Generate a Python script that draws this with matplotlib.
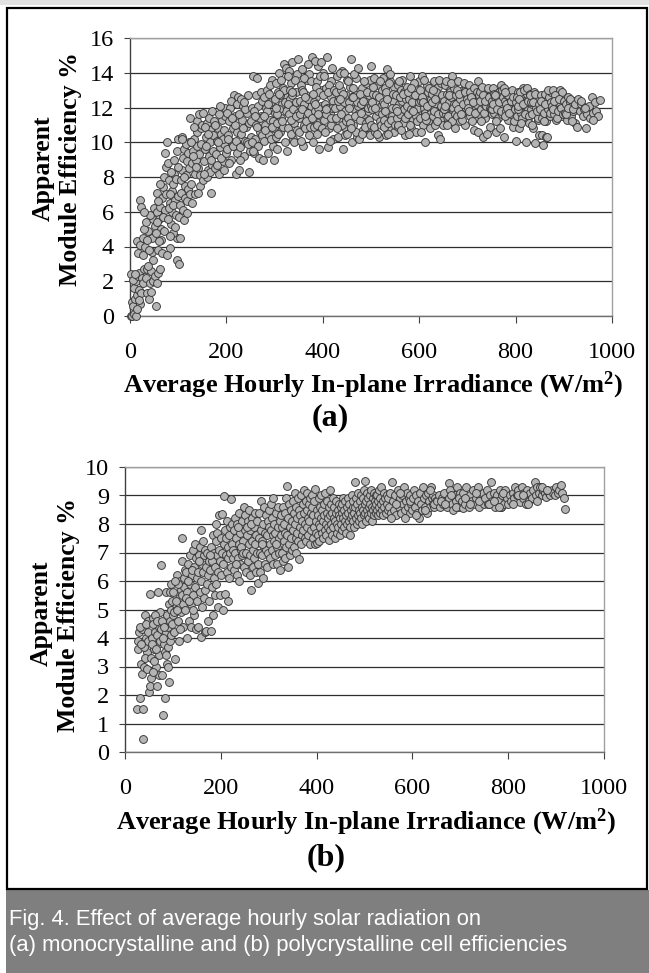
import matplotlib
matplotlib.use("Agg")
import matplotlib.pyplot as plt
import numpy as np

# ---- panel (a): monocrystalline (irradiance W/m2, efficiency %)
mono_low = [
    (2,0.0),(5,0.0),(8,0.1),(12,0.0),(4,0.8),(7,0.6),(10,1.0),(14,1.2),(9,1.6),(12,2.0),(3,2.4),(6,2.1),
    (16,2.3),(18,1.5),(20,0.7),(22,1.3),(15,0.4),(19,2.5),(17,3.6),(15,4.3),(20,4.1),(20,6.7),(22,6.3),
    (24,2.2),(11,2.4),(18,0.9),
    (27,1.9),(30,2.7),(28,3.5),(33,2.2),(35,1.3),(36,2.7),(38,4.9),(40,1.0),(42,1.9),(30,5.0),(34,5.4),
    (44,2.6),(46,3.7),(48,3.2),(45,4.5),(47,5.6),(32,4.0),(40,3.8),(42,5.8),(49,6.2),(26,4.5),(38,2.9),
    (43,1.4),(48,2.0),(36,4.4),(29,6.0),
    (54,0.6),(52,2.3),(56,1.9),(59,2.5),(62,2.7),(58,3.8),(52,5.2),(55,6.0),(57,7.1),(60,5.6),(62,6.3),
    (64,5.0),(66,6.8),(68,7.4),(70,8.0),(65,4.4),(72,6.1),(73,9.4),(74,8.6),(60,4.3),(68,5.7),(71,4.9),
    (53,4.8),(63,7.6),(58,6.6),(74,7.0),(67,3.6),(56,5.4),
    (76,10.0),(78,8.8),(80,7.8),(82,6.5),(84,3.9),(77,3.5),(85,5.3),(87,6.0),(88,7.2),(90,7.6),(92,8.2),
    (94,6.7),(96,5.8),(97,4.5),(98,9.5),(99,10.2),(90,4.8),(86,8.3),(83,7.0),(93,5.1),(80,6.2),(95,7.9),
    (89,6.4),(79,5.6),(91,9.0),(97,3.2),(99,6.9),(84,4.6),
]
mono_rise = [
    (102,3.0),(104,4.5),(101,5.7),(103,6.4),(105,7.1),(106,7.8),(108,8.4),(110,9.1),(112,9.6),(108,10.3),
    (114,6.8),(115,7.5),(116,8.1),(118,8.9),(120,9.4),(122,10.0),(124,11.4),(113,5.5),(119,6.6),(121,7.3),
    (123,8.5),(117,9.9),(109,6.1),(111,8.0),(107,10.2),(125,7.0),(118,5.9),(100,8.6),
    (127,7.6),(128,8.8),(130,9.5),(132,10.2),(134,8.2),(136,9.0),(138,9.8),(140,10.6),(142,8.5),(144,9.3),
    (146,7.5),(148,10.8),(135,7.0),(139,11.2),(143,11.6),(129,6.5),(131,9.2),(145,8.1),(147,9.9),(133,10.9),
    (137,8.6),(141,7.1),(149,11.0),(126,10.0),
    (151,7.8),(153,8.9),(155,9.6),(157,10.3),(159,11.1),(161,8.4),(163,9.2),(165,10.0),(167,10.7),(169,7.1),
    (171,8.7),(173,9.5),(152,11.7),(156,10.9),(160,8.0),(164,11.4),(168,9.0),(172,10.4),(174,11.2),(158,9.8),
    (166,8.3),(170,11.8),(154,8.2),(162,10.5),
    (176,8.5),(178,9.3),(180,10.1),(182,10.8),(184,8.2),(186,9.7),(188,10.5),(190,11.3),(192,8.9),(194,9.9),
    (196,10.7),(198,11.5),(177,11.0),(181,8.7),(185,11.6),(189,9.1),(193,10.2),(197,12.0),(199,9.4),(183,10.0),
    (195,8.4),(187,12.1),
    (201,9.6),(203,10.4),(205,11.2),(207,12.0),(209,9.0),(211,10.0),(213,10.8),(215,12.7),(217,11.5),(219,8.2),
    (221,9.4),(223,10.6),(224,12.6),(202,11.7),(206,8.8),(210,12.4),(214,9.8),(218,11.0),(222,12.2),(204,10.2),
    (212,11.4),(220,10.1),
    (226,8.4),(228,9.7),(230,10.5),(232,11.3),(234,12.1),(236,9.2),(238,10.1),(240,10.9),(242,11.7),(244,12.7),
    (246,8.3),(248,9.5),(250,10.3),(227,11.6),(231,12.5),(235,10.8),(239,11.9),(243,10.0),(247,11.1),(229,9.0),
    (237,12.3),(245,9.9),
    (252,11.2),(254,12.0),(256,13.8),(258,9.4),(260,10.2),(262,11.0),(264,13.7),(266,12.1),(268,9.1),(270,10.6),
    (272,11.5),(274,12.4),(253,10.0),(257,11.8),(261,12.7),(265,9.8),(269,11.4),(273,10.4),(255,9.5),(263,10.9),
    (271,12.9),(259,11.5),
    (276,9.0),(278,10.1),(280,11.0),(282,12.0),(284,13.0),(286,9.4),(288,10.4),(290,11.3),(292,12.3),(294,13.6),
    (296,9.8),(298,10.8),(300,11.7),(277,12.6),(281,10.7),(285,11.8),(289,12.8),(293,10.2),(297,11.2),(299,9.0),
    (279,11.5),(291,13.3),(287,12.2),(295,10.9),
]
mono_peak = [
    (301,12.5),(303,10.3),(305,11.1),(307,12.9),(309,14.0),(311,10.6),(313,11.4),(315,12.2),(317,13.1),(319,14.5),
    (321,10.0),(323,11.8),(325,12.6),(302,13.4),(306,9.6),(310,11.9),(314,13.6),(318,10.9),(322,12.3),(304,11.6),
    (308,10.5),(312,12.7),(316,11.2),(320,13.0),(324,14.3),(303,12.0),(309,12.8),
    (326,9.5),(328,10.8),(330,11.6),(332,12.5),(334,13.4),(336,14.6),(338,10.2),(340,11.1),(342,12.0),(344,12.9),
    (346,13.9),(348,14.8),(350,11.4),(327,12.2),(331,13.0),(335,10.5),(339,11.9),(343,13.6),(347,10.7),(329,14.1),
    (333,11.3),(337,12.7),(341,10.0),(345,12.3),(349,11.7),(327,13.8),(344,11.5),(336,12.9),
    (351,10.6),(353,12.4),(355,13.3),(357,14.2),(359,9.8),(361,11.0),(363,11.8),(365,12.7),(367,13.6),(369,14.5),
    (371,10.4),(373,11.3),(375,12.1),(352,11.6),(356,13.0),(360,12.2),(364,10.8),(368,11.5),(372,13.9),(354,10.1),
    (358,12.9),(362,13.7),(366,11.2),(370,12.5),(374,10.9),(357,11.9),(363,12.6),(369,11.7),
    (376,13.5),(378,14.9),(380,10.0),(382,10.9),(384,11.8),(386,12.6),(388,13.5),(390,14.4),(392,9.6),(394,11.2),
    (396,12.1),(398,13.0),(400,14.0),(377,11.4),(381,12.3),(385,13.2),(389,10.5),(393,12.9),(397,11.5),(379,12.8),
    (383,14.7),(387,11.0),(391,12.0),(395,13.8),(399,10.8),(384,12.2),(390,11.6),(396,14.6),
    (402,11.3),(404,12.2),(406,13.1),(408,14.9),(410,9.7),(412,10.8),(414,11.7),(416,12.6),(418,13.5),(420,14.3),
    (422,10.2),(424,11.1),(401,12.7),(405,10.6),(409,12.0),(413,13.3),(417,11.0),(421,12.4),(403,13.8),(407,11.6),
    (411,12.9),(415,10.1),(419,12.0),(423,13.0),(406,11.9),(418,11.4),
    (426,12.0),(428,12.9),(430,13.8),(432,10.3),(434,11.2),(436,12.1),(438,13.0),(440,14.1),(442,9.6),(444,10.9),
    (446,11.8),(448,12.7),(450,13.6),(427,11.4),(431,12.4),(435,14.0),(439,11.0),(443,12.3),(447,10.4),(429,10.8),
    (433,13.3),(437,11.6),(441,12.8),(445,14.0),(449,11.2),(436,12.5),
    (451,10.5),(453,11.4),(455,12.3),(457,13.2),(459,14.8),(461,10.0),(463,11.0),(465,11.9),(467,12.8),(469,13.7),
    (471,10.3),(473,11.6),(475,12.5),(452,13.5),(456,11.1),(460,12.6),(464,13.9),(468,10.6),(472,12.1),(454,12.0),
    (458,10.8),(462,13.1),(466,11.5),(470,12.3),(474,14.3),(463,12.6),
    (476,10.2),(478,11.3),(480,12.2),(482,13.1),(484,10.7),(486,11.6),(488,12.5),(490,13.4),(492,10.9),(494,11.8),
    (496,12.7),(498,13.6),(500,14.4),(477,12.8),(481,10.5),(485,13.5),(489,11.1),(493,12.0),(497,10.4),(479,11.7),
    (483,12.4),(487,10.9),(491,12.9),(495,11.3),(499,12.1),
    (501,11.0),(503,11.9),(505,12.8),(507,13.7),(509,10.6),(511,11.5),(513,12.4),(515,13.3),(517,10.3),(519,11.2),
    (521,12.1),(523,13.0),(525,13.7),(502,12.3),(506,10.9),(510,12.7),(514,11.8),(518,13.5),(522,11.6),(504,13.2),
    (508,12.0),(512,10.5),(516,12.6),(520,11.0),(524,12.3),
    (526,11.3),(528,12.2),(530,13.1),(532,10.4),(534,14.2),(536,11.7),(538,12.6),(540,13.5),(542,10.7),(544,11.5),
    (546,12.4),(548,13.2),(550,11.9),(527,10.9),(531,12.9),(535,11.1),(539,13.9),(543,12.0),(547,10.6),(529,11.8),
    (533,12.5),(537,13.4),(541,11.3),(545,12.8),(549,11.0),(536,10.5),
    (551,12.7),(553,11.4),(555,13.3),(557,10.9),(559,12.2),(561,11.6),(563,13.0),(565,12.4),(567,11.1),(569,12.9),
    (571,10.4),(573,11.8),(575,13.2),(552,12.0),(556,11.0),(560,12.6),(564,13.6),(568,11.9),(572,12.5),(554,11.8),
    (558,13.5),(562,10.7),(566,12.8),(570,11.4),(574,12.1),
    (576,11.6),(578,12.5),(580,13.8),(582,10.8),(584,11.9),(586,12.8),(588,11.3),(590,12.2),(592,13.1),(594,10.6),
    (596,11.7),(598,12.6),(600,13.5),(577,12.9),(581,11.0),(585,12.3),(589,13.4),(593,11.5),(597,12.0),(579,10.5),
    (583,13.1),(587,11.8),(591,12.7),(595,11.2),(599,12.3),
]
mono_high = [
    (601,11.4),(603,12.4),(605,13.8),(607,11.0),(609,12.0),(611,10.0),(613,11.7),(615,12.6),(617,13.3),(619,11.2),
    (621,12.2),(623,10.8),(625,11.9),(602,13.0),(606,12.6),(610,13.6),(614,11.3),(618,12.9),(622,11.6),(604,10.6),
    (608,12.3),(612,11.5),(616,12.1),(620,13.1),(624,12.5),
    (626,12.8),(628,11.5),(630,13.5),(632,11.0),(634,12.2),(636,11.8),(638,13.2),(640,10.4),(642,12.6),(644,11.3),
    (646,13.4),(648,12.0),(650,11.0),(627,12.3),(631,11.8),(635,12.9),(639,11.6),(643,10.2),(647,12.7),(629,13.0),
    (633,12.5),(637,11.2),(641,13.6),(645,12.1),(649,11.7),
    (651,12.4),(653,13.3),(655,11.6),(657,12.8),(659,11.1),(661,12.3),(663,13.0),(665,11.4),(667,12.6),(669,13.8),
    (671,11.8),(673,12.2),(675,10.8),(652,11.9),(656,13.5),(660,11.5),(664,12.9),(668,11.2),(672,13.1),(654,12.1),
    (658,11.0),(662,12.7),(666,13.4),(670,12.0),(674,11.6),
    (676,12.7),(678,11.5),(680,13.5),(682,12.1),(684,11.2),(686,12.9),(688,11.7),(690,13.0),(692,12.4),(694,11.0),
    (696,12.6),(698,13.2),(700,11.8),(677,12.2),(681,11.9),(685,12.5),(689,11.3),(693,13.4),(697,12.0),(679,13.0),
    (683,12.8),(687,11.6),(691,12.2),(695,12.9),(699,12.5),
    (701,12.3),(703,13.3),(705,11.5),(707,12.7),(709,11.9),(711,13.0),(713,10.7),(715,12.1),(717,12.8),(719,11.4),
    (721,13.5),(723,12.4),(725,11.6),(702,12.0),(706,12.9),(710,11.2),(714,13.1),(718,12.2),(722,10.6),(704,11.8),
    (708,12.6),(712,12.3),(716,11.7),(720,12.9),(724,12.7),
    (726,12.9),(728,11.9),(730,12.5),(732,10.3),(734,12.2),(736,11.4),(738,13.0),(740,12.6),(742,11.8),(744,12.3),
    (746,10.9),(748,12.8),(750,11.6),(727,12.4),(731,13.2),(735,11.7),(739,12.1),(743,13.1),(747,12.0),(729,11.2),
    (733,12.7),(737,12.4),(741,10.5),(745,12.6),(749,11.9),
    (751,12.4),(753,13.1),(755,11.7),(757,12.6),(759,10.6),(761,12.2),(763,11.4),(765,12.9),(767,12.0),(769,13.3),
    (771,11.6),(773,12.4),(775,10.3),(752,11.9),(756,12.8),(760,11.2),(764,12.5),(768,10.8),(772,13.0),(754,12.2),
    (758,12.7),(762,11.9),(766,12.3),(770,11.8),(774,12.6),
    (776,13.1),(778,12.4),(780,11.8),(782,12.7),(784,11.3),(786,12.2),(788,12.9),(790,11.6),(792,12.5),(794,10.9),
    (796,12.0),(798,12.8),(800,10.1),(777,11.5),(781,12.2),(785,12.7),(789,11.9),(793,13.0),(797,11.2),(779,12.9),
    (783,12.0),(787,11.7),(791,12.4),(795,12.6),(799,11.9),
    (801,12.3),(803,11.5),(805,12.9),(807,10.8),(809,12.1),(811,11.7),(813,12.6),(815,13.1),(817,11.3),(819,12.4),
    (821,10.0),(823,12.8),(825,11.9),(802,12.6),(806,11.9),(810,12.9),(814,11.4),(818,13.0),(822,12.3),(804,12.1),
    (808,12.5),(812,11.1),(816,12.2),(820,11.6),(824,13.1),
    (826,12.4),(828,11.5),(830,12.8),(832,11.9),(834,12.2),(836,10.8),(838,12.6),(840,9.95),(842,11.7),(844,12.5),
    (846,11.3),(848,10.4),(850,12.1),(827,11.1),(831,12.3),(835,11.6),(839,12.9),(843,12.0),(847,11.4),(829,12.7),
    (833,11.0),(837,12.3),(841,12.8),(845,11.8),(849,12.2),(856,9.85),(854,10.4),(864,10.3),(866,10.3),
    (851,11.9),(853,12.7),(855,11.4),(857,12.3),(859,11.7),(861,12.8),(863,11.2),(865,12.4),(867,11.9),(869,12.6),
    (871,11.5),(873,12.9),(875,12.0),(852,12.4),(858,11.2),(862,12.2),(868,13.0),(872,11.7),(874,12.3),
    (876,12.1),(878,13.0),(880,11.6),(882,12.5),(884,11.3),(886,12.2),(888,12.8),(890,11.8),(892,13.0),(894,12.4),
    (896,11.5),(898,12.7),(900,12.1),(877,11.9),(881,12.7),(885,11.4),(889,12.3),(893,11.9),(897,12.9),(879,12.4),
    (887,11.8),(891,12.5),(895,12.0),(899,11.6),
    (901,12.4),(903,11.7),(905,12.2),(907,11.3),(909,12.6),(911,11.9),(913,12.3),(915,11.5),(917,12.1),(919,11.8),
    (921,12.4),(923,11.1),(925,12.0),(904,11.6),(908,12.0),(912,12.5),(916,11.2),(920,11.9),(924,12.2),
    (927,10.9),(930,12.5),(933,11.8),(936,12.2),(939,11.5),(942,11.9),(946,10.8),(949,11.6),(952,12.1),(955,11.4),
    (958,12.6),(961,11.7),(964,12.3),(967,11.8),(970,11.5),(975,12.45),(935,12.4),(944,12.0),(960,11.3),
]

# ---- panel (b): polycrystalline
poly_low = [
    (26,1.5),(37,1.52),(31,1.9),(38,0.44),(28,3.6),(30,4.2),(33,3.1),(35,2.75),(27,3.9),(40,3.0),(42,4.8),
    (44,4.0),(46,3.5),(48,4.6),(36,4.3),(39,3.7),(45,2.9),(47,4.2),(32,4.4),(41,3.3),(49,3.9),(34,3.8),(43,4.5),
    (51,2.1),(52,2.3),(53,5.55),(55,2.6),(54,3.3),(56,4.0),(58,4.7),(60,3.6),(62,4.2),(64,3.0),(66,2.3),(68,3.8),
    (69,5.6),(70,4.4),(72,3.4),(74,4.9),(57,3.8),(59,4.5),(61,3.2),(63,4.8),(65,3.6),(67,4.1),(71,2.7),(73,3.9),
    (75,4.3),(58,2.8),(66,4.6),
    (76,6.55),(77,4.6),(78,2.7),(80,1.3),(81,3.8),(83,1.9),(84,3.5),(85,5.6),(86,4.2),(87,3.1),(88,4.8),(89,3.7),
    (90,4.4),(91,2.45),(92,5.2),(93,3.9),(94,4.6),(95,5.0),(96,4.1),(97,5.9),(98,4.5),(99,5.3),(79,4.0),(82,4.4),
    (86,3.4),(90,3.0),(94,5.6),(100,4.8),
    (101,5.6),(103,4.2),(105,3.25),(106,5.0),(108,6.2),(110,4.6),(112,5.4),(113,3.9),(114,6.0),(116,4.9),
    (117,5.7),(118,6.7),(120,7.5),(121,4.4),(122,5.2),(123,6.1),(124,5.8),(102,4.9),(107,5.3),(111,5.9),
    (115,4.3),(119,5.5),(104,6.0),(109,5.0),(125,6.4),
    (126,5.0),(128,6.3),(129,4.0),(130,5.6),(132,6.6),(133,4.6),(135,5.9),(136,6.9),(137,5.2),(138,4.4),
    (140,6.2),(141,7.1),(142,5.5),(144,6.5),(145,4.8),(146,5.8),(148,4.31),(149,6.8),(127,5.4),(131,6.0),
    (134,5.3),(139,6.4),(143,5.0),(147,7.3),(150,6.1),
    (151,5.3),(152,4.4),(153,6.3),(155,6.9),(156,5.6),(157,7.2),(158,4.02),(158,7.8),(159,6.0),(160,6.6),
    (161,5.1),(162,7.4),(163,6.3),(165,6.9),(166,4.2),(167,5.7),(168,7.1),(169,6.5),(170,4.25),(171,5.9),
    (172,7.0),(173,6.2),(174,4.6),(154,6.7),(164,5.4),(175,6.7),
    (176,5.3),(178,6.4),(179,7.2),(180,4.25),(181,5.8),(182,6.7),(183,7.6),(184,4.8),(185,6.1),(186,7.0),
    (187,5.5),(188,6.5),(189,7.4),(190,8.0),(191,5.9),(192,6.9),(193,7.7),(194,5.1),(195,6.3),(196,8.3),
    (197,7.1),(198,5.5),(199,6.7),(177,6.9),(200,7.5),
]
poly_mid = [
    (201,6.2),(202,7.0),(203,8.36),(204,5.0),(205,6.6),(206,7.3),(207,8.97),(208,5.53),(209,7.8),(210,6.9),
    (211,7.5),(212,6.3),(213,8.1),(214,7.2),(215,5.3),(216,6.8),(217,7.6),(218,6.1),(219,7.0),(220,7.9),
    (221,8.88),(222,6.5),(223,7.3),(224,8.0),(225,6.8),
    (226,7.1),(227,7.8),(228,6.4),(229,8.2),(230,7.0),(232,7.5),(233,6.2),(234,8.0),(236,6.8),(237,7.3),
    (238,8.4),(240,6.6),(241,7.7),(242,7.1),(244,8.1),(245,6.9),(246,7.4),(248,8.6),(249,6.5),(250,7.8),
    (231,6.6),(235,7.9),(239,6.0),(243,7.2),(247,7.0),
    (251,8.3),(252,7.0),(253,6.3),(254,7.6),(256,8.1),(257,6.7),(258,7.3),(259,8.5),(260,6.2),(261,7.8),
    (262,6.9),(264,5.67),(265,7.4),(266,8.2),(267,6.5),(268,7.1),(269,7.9),(270,6.8),(271,8.4),(272,7.3),
    (273,6.3),(274,7.6),(255,7.9),(263,8.0),(275,7.0),
    (276,8.1),(277,6.6),(278,5.94),(279,7.5),(280,8.4),(281,7.0),(282,6.3),(283,7.8),(284,8.8),(286,6.9),
    (287,7.4),(288,8.0),(289,6.1),(290,7.2),(291,8.6),(292,7.7),(293,6.6),(294,7.1),(295,8.3),(296,6.5),
    (297,7.6),(298,8.1),(299,7.0),(285,7.3),(300,7.9),
    (301,8.5),(302,7.3),(303,6.8),(304,7.8),(305,8.7),(306,7.1),(307,8.2),(308,6.6),(309,7.6),(310,8.9),
    (311,7.4),(312,8.0),(313,6.9),(314,7.7),(316,8.4),(317,7.2),(318,6.6),(319,7.9),(320,8.6),(321,7.0),
    (322,7.5),(323,6.4),(324,8.1),(315,7.3),(325,7.6),
    (326,8.3),(327,7.0),(328,7.9),(329,6.7),(330,8.6),(331,7.4),(332,8.0),(333,6.8),(334,7.7),(335,8.4),
    (336,7.2),(337,8.9),(338,9.32),(339,7.6),(340,6.5),(341,8.2),(342,7.3),(343,8.7),(344,7.9),(345,6.9),
    (346,8.5),(347,7.5),(348,8.1),(349,7.1),(350,8.8),
    (351,7.8),(352,8.4),(353,7.2),(354,9.1),(355,8.0),(356,7.5),(357,8.6),(358,7.0),(359,8.2),(360,7.7),
    (361,8.9),(362,7.4),(363,6.78),(364,8.5),(365,7.9),(366,8.3),(367,7.3),(368,9.0),(369,7.6),(370,8.1),
    (371,8.7),(372,7.8),(373,9.2),(374,8.4),(375,7.5),
    (376,8.0),(377,8.8),(378,7.4),(379,8.5),(380,7.9),(381,9.1),(382,8.2),(383,7.6),(384,8.7),(385,8.1),
    (386,7.3),(387,8.9),(388,8.4),(389,7.8),(390,8.6),(391,9.0),(392,7.5),(393,8.3),(394,7.9),(395,8.8),
    (396,7.3),(397,9.23),(398,8.1),(399,7.7),(400,8.5),
]
poly_high = [
    (401,7.33),(402,8.3),(403,7.6),(404,8.9),(405,8.0),(406,7.4),(407,8.6),(408,7.9),(409,8.2),(410,9.0),
    (411,7.7),(412,8.5),(413,8.1),(414,7.5),(415,8.7),(416,8.3),(417,7.8),(418,9.1),(419,8.0),(420,7.6),
    (421,8.4),(422,8.8),(423,7.9),(424,8.2),(425,7.45),
    (426,8.6),(427,9.2),(428,7.8),(429,8.3),(430,8.0),(431,8.7),(432,7.6),(433,8.4),(434,8.9),(435,7.9),
    (436,8.2),(437,8.6),(438,7.5),(439,8.1),(440,8.8),(441,8.4),(442,7.7),(443,8.0),(444,8.5),(445,7.9),
    (446,8.3),(447,8.7),(448,7.6),(449,8.2),(450,8.6),
    (451,8.0),(452,8.4),(453,7.8),(454,8.7),(455,8.2),(456,8.9),(457,7.9),(458,8.5),(459,8.1),(460,8.8),
    (461,8.3),(462,7.7),(463,8.6),(464,8.0),(465,8.9),(466,8.4),(467,8.1),(468,8.7),(469,7.9),(470,7.62),
    (471,8.5),(472,8.2),(473,9.0),(474,8.3),(475,8.6),
    (476,8.1),(477,8.8),(478,8.4),(479,7.9),(480,9.49),(481,8.6),(482,8.2),(483,8.9),(484,8.0),(485,8.7),
    (486,8.3),(487,9.1),(488,8.5),(489,8.1),(490,8.8),(491,8.4),(492,9.0),(493,8.2),(494,8.6),(495,8.0),
    (496,8.9),(497,8.5),(498,9.2),(499,8.3),(500,8.7),
    (501,8.4),(502,9.52),(503,8.1),(504,8.8),(505,8.5),(506,9.1),(507,8.3),(508,8.9),(509,8.6),(510,8.2),
    (511,9.0),(512,8.7),(513,8.4),(514,9.2),(515,8.6),(516,8.1),(517,8.9),(518,8.5),(519,9.1),(520,8.3),
    (521,8.8),(522,8.6),(523,9.0),(524,8.4),(525,8.7),
    (526,8.5),(527,9.0),(528,8.3),(529,8.8),(530,9.2),(531,8.6),(532,8.4),(533,8.9),(534,8.7),(535,9.3),
    (536,8.5),(538,8.8),(539,8.3),(540,9.1),(541,8.6),(543,8.9),(544,8.4),(546,9.0),(547,8.7),(549,8.5),(550,8.9),
    (552,8.6),(554,9.1),(556,8.4),(558,9.49),(560,8.8),(562,8.5),(564,9.0),(566,8.3),(568,8.7),(570,9.2),
    (572,8.6),(574,8.9),(576,8.4),(578,9.0),(580,8.7),(582,9.3),(584,8.5),(586,8.8),(588,9.1),(590,8.6),
    (592,8.9),(594,8.4),(596,9.0),(598,8.7),(600,8.5),(555,8.2),(565,8.7),(575,9.1),(585,8.2),(595,8.8),
    (602,8.9),(604,9.2),(606,8.6),(608,9.0),(610,8.4),(612,8.8),(614,8.2),(616,9.1),(618,8.7),(620,8.5),
    (622,9.3),(624,8.9),(626,8.6),(628,9.0),(630,8.4),(632,9.1),(634,8.8),(636,8.6),(638,9.3),(640,8.9),
    (642,8.7),(644,9.0),(646,8.6),(648,8.9),(650,8.8),(607,8.3),(627,8.5),(637,9.2),(645,8.7),
    (652,8.8),(655,9.0),(658,8.6),(661,8.9),(664,8.7),(667,9.1),(670,8.8),(673,8.6),(676,8.9),(677,9.43),
    (679,9.2),(682,8.7),(685,8.5),(688,9.0),(691,8.8),(694,9.3),(697,8.6),(700,9.1),(660,8.8),(668,8.7),
    (680,9.0),(690,8.6),(698,8.9),(706,8.55),
    (703,8.8),(706,9.1),(709,8.7),(712,9.3),(715,8.9),(718,8.6),(721,9.0),(724,8.8),(727,9.2),(730,8.7),
    (733,8.9),(736,9.3),(739,8.6),(742,9.0),(745,8.8),(748,9.1),(750,8.7),(710,8.9),(720,8.7),(732,9.1),(740,8.8),
    (752,8.9),(755,9.2),(758,8.7),(761,9.0),(764,9.49),(767,8.8),(770,9.1),(773,8.6),(776,9.0),(779,8.8),
    (782,9.2),(785,8.6),(786,8.6),(788,9.0),(791,8.7),(794,9.2),(797,8.9),(800,8.7),(760,8.7),(771,8.8),
    (780,8.6),(790,9.1),
    (803,9.0),(806,8.8),(809,9.1),(812,8.9),(815,9.3),(818,9.0),(821,9.2),(825,8.78),(828,9.3),(831,8.9),
    (834,9.1),(837,8.7),(840,9.2),(843,8.8),(846,9.1),(849,8.9),(810,8.7),(820,9.0),(830,9.0),(841,8.7),
    (852,9.2),(855,9.49),(858,9.0),(861,9.3),(864,9.1),(867,9.3),(870,9.0),(873,9.2),(876,9.1),(879,8.95),
    (882,9.2),(885,9.1),(888,9.0),(891,9.2),(894,9.1),(897,9.0),(900,9.3),(903,9.1),(906,9.2),(910,9.37),
    (913,9.1),(917,8.9),(919,8.53),(860,8.8),(870,9.3),(880,9.2),
]

x_ticks = [0, 200, 400, 600, 800, 1000]
mono_yticks = [0, 2, 4, 6, 8, 10, 12, 14, 16]
poly_yticks = list(range(0, 11))
x_label = "Average Hourly In-plane Irradiance (W/m$\\mathbf{^2}$)"
y_label_top = "Apparent"
y_label_bottom = "Module Efficiency %"
caption = ["Fig. 4. Effect of average hourly solar radiation on",
           "(a) monocrystalline and (b) polycrystalline cell efficiencies"]

W, H = 649, 973
serif = "Liberation Serif"
plt.rcParams["font.family"] = serif
plt.rcParams["mathtext.fontset"] = "custom"
plt.rcParams["mathtext.rm"] = serif
plt.rcParams["mathtext.bf"] = serif + ":bold"

fig = plt.figure(figsize=(W / 100, H / 100), dpi=100)
fig.patch.set_facecolor("white")


def px_box(left, top, right, bottom):
    # pixel box -> figure fraction [l, b, w, h]
    return [left / W, 1 - bottom / H, (right - left) / W, (bottom - top) / H]


def draw_panel(box, pts, yticks, ymax):
    ax = fig.add_axes(box)
    arr = np.array(pts, dtype=float)
    ax.scatter(arr[:, 0], arr[:, 1], s=32, facecolor="#b4b4b4", edgecolor="#353535",
               linewidth=0.65, zorder=3, clip_on=False)
    ax.set_xlim(0, 1000)
    ax.set_ylim(0, ymax)
    ax.set_xticks(x_ticks)
    ax.set_yticks(yticks)
    ax.set_axisbelow(True)
    ax.yaxis.grid(True, color="#2e2e2e", linewidth=0.9)
    ax.xaxis.grid(False)
    ax.spines["left"].set_color("#404040")
    ax.spines["bottom"].set_color("#707070")
    for s in ("top", "right"):
        ax.spines[s].set_color("#a0a0a0")
    for s in ax.spines.values():
        s.set_linewidth(1.0)
    ax.tick_params(axis="y", direction="out", length=4.5, width=0.8, color="#404040",
                   labelsize=17.5, pad=7)
    ax.tick_params(axis="x", direction="out", length=5, width=0.8, color="#404040",
                   labelsize=17.5, pad=14)
    return ax


mono = mono_low + mono_rise + mono_peak + mono_high
poly = poly_low + poly_mid + poly_high

draw_panel(px_box(130, 38, 612, 316), mono, mono_yticks, 16)
draw_panel(px_box(125, 467, 604, 752), poly, poly_yticks, 10)


def ftext(x, y, s, **kw):
    fig.text(x / W, 1 - y / H, s, **kw)


# axis titles and panel letters
ftext(373, 385, x_label, ha="center", va="center", fontsize=19, fontweight="bold")
ftext(43, 168, y_label_top, rotation=90, ha="center", va="center", fontsize=18.5, fontweight="bold")
ftext(70, 169, y_label_bottom, rotation=90, ha="center", va="center", fontsize=18.5, fontweight="bold")
ftext(330, 418, "(a)", ha="center", va="center", fontsize=23, fontweight="bold")

ftext(366, 822, x_label, ha="center", va="center", fontsize=19, fontweight="bold")
ftext(41, 613, y_label_top, rotation=90, ha="center", va="center", fontsize=18.5, fontweight="bold")
ftext(68, 615, y_label_bottom, rotation=90, ha="center", va="center", fontsize=18.5, fontweight="bold")
ftext(326, 858, "(b)", ha="center", va="center", fontsize=23, fontweight="bold")

# light band along the top edge, outer frame and grey caption strip
top_band = plt.Rectangle((0, 1 - 5 / H), 1, 5 / H, transform=fig.transFigure,
                         facecolor="#e2e2e2", edgecolor="none", zorder=8)
frame = plt.Rectangle((6.5 / W, 1 - 889 / H), 640 / W, 881 / H, transform=fig.transFigure,
                      fill=False, edgecolor="black", linewidth=1.6, zorder=10)
strip = plt.Rectangle((6 / W, 0), 643 / W, 83 / H, transform=fig.transFigure,
                      facecolor="#7f7f7f", edgecolor="none", zorder=9)
fig.patches.extend([top_band, frame, strip])

ftext(9, 920, caption[0], ha="left", va="center", fontsize=15.8, color="white",
      family="Liberation Sans", zorder=11)
ftext(9, 946, caption[1], ha="left", va="center", fontsize=15.8, color="white",
      family="Liberation Sans", zorder=11)

fig.savefig("out.png", dpi=100)
